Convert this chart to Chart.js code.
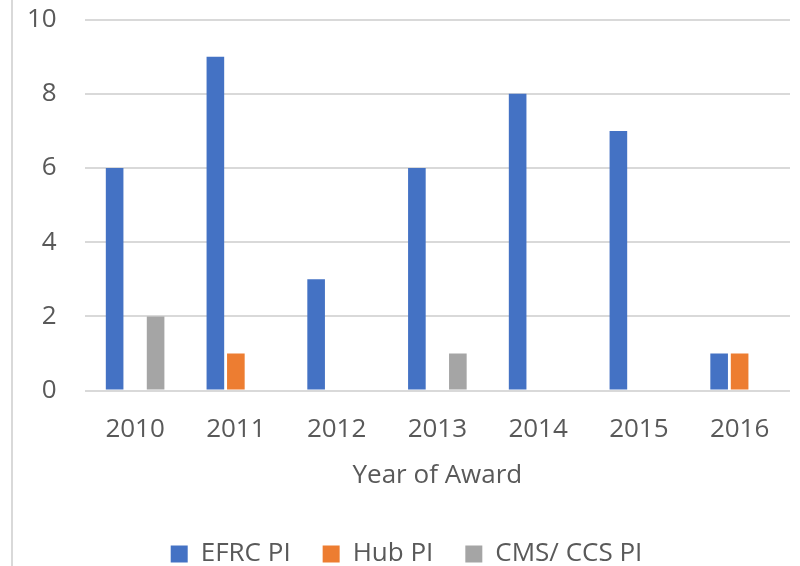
<!DOCTYPE html>
<html>
<head>
<meta charset="utf-8">
<script src="https://cdn.jsdelivr.net/npm/chart.js@4"></script>
<style>
  html, body { margin: 0; padding: 0; background: #fff; }
  #wrap { position: relative; width: 800px; height: 566px; }
  #frameLine { position: absolute; left: 11px; top: 0; width: 2px; height: 566px; background: #d9d9d9; }
  canvas { position: absolute; left: 0; top: 0; }
</style>
</head>
<body>
<div id="wrap">
  <div id="frameLine"></div>
  <canvas id="chart" width="800" height="566"></canvas>
</div>
<script>
// Year of award, PI counts per programme
const years = ['2010', '2011', '2012', '2013', '2014', '2015', '2016'];
const efrcPI = [6, 9, 3, 6, 8, 7, 1];
const hubPI = [0, 1, 0, 0, 0, 0, 1];
const cmsCcsPI = [2, 0, 0, 1, 0, 0, 0];

const COLORS = {
  blue: '#4472C4',
  orange: '#ED7D31',
  gray: '#A5A5A5',
  grid: '#d9d9d9',
  text: '#595959'
};

const FONT = "'Open Sans', 'Liberation Sans', sans-serif";
const FONT_SIZE = 26;

function dataset(label, data, color) {
  return {
    label, data,
    backgroundColor: color,
    borderWidth: 0,
    categoryPercentage: 0.61,
    barPercentage: 0.86
  };
}

new Chart(document.getElementById('chart'), {
  type: 'bar',
  data: {
    labels: years,
    datasets: [
      dataset('EFRC PI', efrcPI, COLORS.blue),
      dataset('Hub PI', hubPI, COLORS.orange),
      dataset('CMS/ CCS PI', cmsCcsPI, COLORS.gray)
    ]
  },
  options: {
    responsive: false,
    animation: false,
    layout: { padding: { left: 23, right: 10, top: 5, bottom: -11 } },
    plugins: {
      tooltip: { enabled: false },
      legend: {
        position: 'bottom',
        labels: {
          color: COLORS.text,
          font: { family: FONT, size: FONT_SIZE },
          boxWidth: 17, boxHeight: 17,
          padding: 32
        }
      }
    },
    scales: {
      x: {
        grid: { display: false },
        border: { display: false },
        ticks: { color: COLORS.text, font: { family: FONT, size: FONT_SIZE }, padding: 15 },
        title: {
          display: true,
          text: 'Year of Award',
          color: COLORS.text,
          font: { family: FONT, size: FONT_SIZE },
          padding: { top: 0, bottom: 18 }
        }
      },
      y: {
        min: 0, max: 10,
        border: { display: false },
        grid: { color: COLORS.grid, lineWidth: 2, drawTicks: true, tickColor: 'transparent', tickLength: 24 },
        ticks: { stepSize: 2, color: COLORS.text, font: { family: FONT, size: FONT_SIZE }, padding: 4 }
      }
    }
  }
});
</script>
</body>
</html>
